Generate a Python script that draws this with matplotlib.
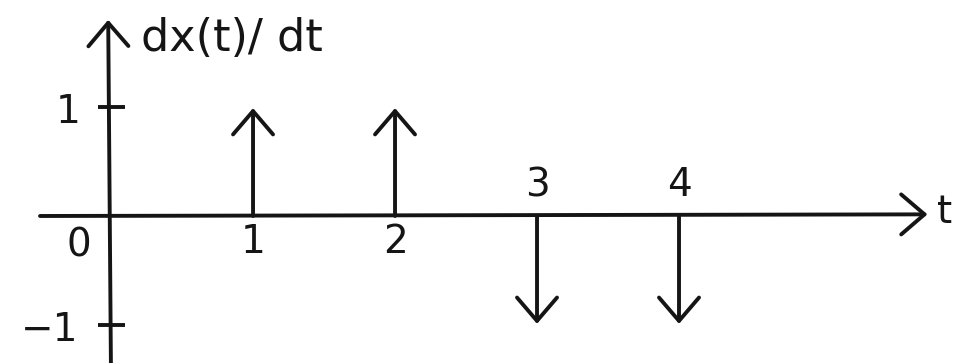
import matplotlib
matplotlib.use('Agg')
import matplotlib.pyplot as plt

# impulses of dx(t)/dt
impulse_t = [1, 2, 3, 4]
impulse_amp = [1, 1, -1, -1]

# axis labels
t_labels = ['1', '2', '3', '4']
y_ticks = [1, -1]
y_labels = ['1', '\u22121']

plt.rcParams['font.family'] = ['DejaVu Sans']
ink = '#151515'
lw = 2.8

fig = plt.figure(figsize=(9.62, 3.63), dpi=100)
ax = fig.add_axes([0, 0, 1, 1])
ax.set_xlim(-0.782, 5.993)
ax.set_ylim(-1.349, 1.982)
ax.axis('off')

head = '->,head_length=0.7,head_width=0.6'

# axes with arrows
ax.annotate('', xy=(5.75, 0.015), xytext=(-0.5, 0),
            arrowprops=dict(arrowstyle=head, lw=lw, color=ink,
                            mutation_scale=24, shrinkA=0, shrinkB=0))
ax.annotate('', xy=(-0.02, 1.80), xytext=(0.0, -1.5),
            arrowprops=dict(arrowstyle=head, lw=lw, color=ink,
                            mutation_scale=24, shrinkA=0, shrinkB=0))

# impulses
for t, a in zip(impulse_t, impulse_amp):
    ax.annotate('', xy=(t, a * 0.99), xytext=(t, 0),
                arrowprops=dict(arrowstyle=head, lw=lw, color=ink,
                                mutation_scale=24, shrinkA=0, shrinkB=0))

# y ticks
for yv in y_ticks:
    ax.plot([-0.09, 0.1], [yv, yv], color=ink, lw=lw, solid_capstyle='butt')

fs = 28
ax.text(-0.23, -0.27, '0', fontsize=fs, ha='center', va='center', color=ink)
for t, lab in zip(impulse_t, t_labels):
    if t <= 2:
        ax.text(t, -0.24, lab, fontsize=fs, ha='center', va='center', color=ink)
    else:
        ax.text(t, 0.28, lab, fontsize=fs, ha='center', va='center', color=ink)

ax.text(-0.30, 0.95, y_labels[0], fontsize=fs, ha='center', va='center', color=ink)
ax.text(-0.43, -1.05, y_labels[1], fontsize=fs, ha='center', va='center', color=ink)

ax.text(5.87, 0.04, 't', fontsize=fs, ha='center', va='center', color=ink)
ax.text(0.21, 1.63, 'dx(t)/ dt', fontsize=32, ha='left', va='center', color=ink)

fig.savefig('out.png', dpi=100, facecolor='white')
